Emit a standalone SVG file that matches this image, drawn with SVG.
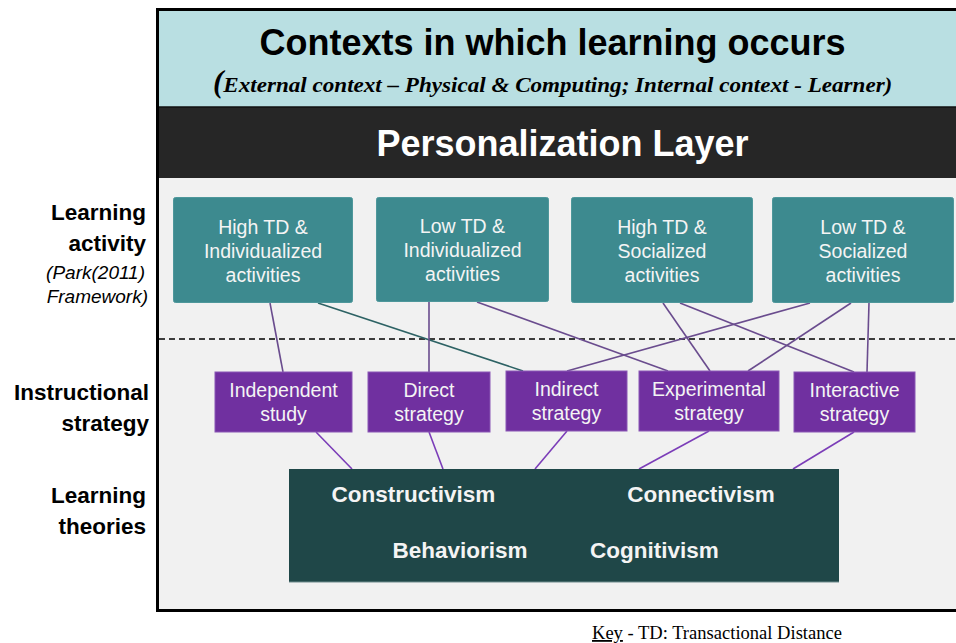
<svg xmlns="http://www.w3.org/2000/svg" width="956" height="643" viewBox="0 0 956 643">
<defs>
<style>
.sans{font-family:"Liberation Sans",Arial,sans-serif}
.act rect{fill:#3D8A8F;stroke:#4E979B;stroke-width:1}
.act text{font-family:"Liberation Sans",Arial,sans-serif;font-size:19.5px;fill:#F4F4F4;text-anchor:middle}
.str rect{fill:#7030A0;stroke:#8A57B5;stroke-width:1}
.str text{font-family:"Liberation Sans",Arial,sans-serif;font-size:19.5px;fill:#F4F4F4;text-anchor:middle}
.lbl{font-family:"Liberation Sans",Arial,sans-serif;font-size:22.5px;font-weight:bold;fill:#000;text-anchor:end}
.lbli{font-family:"Liberation Sans",Arial,sans-serif;font-size:19px;font-style:italic;fill:#000;text-anchor:end}
.th{font-family:"Liberation Sans",Arial,sans-serif;font-size:22.5px;font-weight:bold;fill:#F4F4F4;text-anchor:middle}
.c1{stroke:#6A4C8E;stroke-width:1.6;fill:none}
.c2{stroke:#7B3DB8;stroke-width:1.6;fill:none}
.c3{stroke:#2D6264;stroke-width:1.6;fill:none}
</style>
</defs>

<!-- background bands -->
<rect x="157" y="10" width="799" height="97" fill="#B9DFE2"/>
<rect x="157" y="107" width="799" height="71" fill="#262626"/>
<line x1="157" y1="107" x2="956" y2="107" stroke="#111" stroke-width="1.5"/>
<rect x="157" y="178" width="799" height="431" fill="#F1F1F1"/>
<rect x="157.5" y="9.5" width="820" height="601" fill="none" stroke="#000" stroke-width="3"/>

<g id="title">
<text x="552.5" y="55" class="sans" font-size="36" font-weight="bold" text-anchor="middle" fill="#000">Contexts in which learning occurs</text>
<text x="213" y="92" font-family="'Liberation Serif','Times New Roman',serif" font-weight="bold" font-style="italic" fill="#000"><tspan font-size="31">(</tspan><tspan font-size="21.5" textLength="669" lengthAdjust="spacingAndGlyphs">External context – Physical &amp; Computing; Internal context - Learner)</tspan></text>
</g>

<g id="personalization">
<text x="562.5" y="156" class="sans" font-size="36" font-weight="bold" text-anchor="middle" fill="#FFFFFF">Personalization Layer</text>
</g>

<!-- dashed separator -->
<line x1="159" y1="339" x2="956" y2="339" stroke="#000" stroke-width="1.5" stroke-dasharray="6 4"/>

<!-- side labels -->
<g id="label-activity">
<text x="146" y="220" class="lbl">Learning</text>
<text x="146" y="251" class="lbl">activity</text>
<text x="145" y="279" class="lbli">(Park(2011)</text>
<text x="148" y="303" class="lbli">Framework)</text>
</g>
<g id="label-strategy">
<text x="149" y="400" class="lbl">Instructional</text>
<text x="149" y="431" class="lbl">strategy</text>
</g>
<g id="label-theories">
<text x="146" y="503" class="lbl">Learning</text>
<text x="146" y="534" class="lbl">theories</text>
</g>

<!-- connectors -->
<g id="connectors">
<line class="c1" x1="270" y1="303" x2="283" y2="372"/>
<line class="c3" x1="318" y1="303" x2="523" y2="371"/>
<line class="c1" x1="429" y1="302" x2="429" y2="372"/>
<line class="c1" x1="477" y1="302" x2="668" y2="371"/>
<line class="c1" x1="663" y1="303" x2="710" y2="371"/>
<line class="c1" x1="680" y1="303" x2="854" y2="372"/>
<line class="c1" x1="810" y1="303" x2="567" y2="371"/>
<line class="c1" x1="851" y1="303" x2="748" y2="371"/>
<line class="c1" x1="869" y1="303" x2="867" y2="372"/>
<line class="c2" x1="316" y1="432" x2="352" y2="469"/>
<line class="c2" x1="429" y1="432" x2="443" y2="469"/>
<line class="c2" x1="567" y1="431" x2="535" y2="469"/>
<line class="c2" x1="709" y1="431" x2="639" y2="469"/>
<line class="c2" x1="854" y1="432" x2="793" y2="469"/>
</g>

<!-- learning activities -->
<g id="act-high-ind" class="act">
<rect x="173.5" y="197.5" width="179" height="105" rx="2"/>
<text x="263" y="234">High TD &amp;</text>
<text x="263" y="258">Individualized</text>
<text x="263" y="282">activities</text>
</g>
<g id="act-low-ind" class="act">
<rect x="376.5" y="197.5" width="172" height="104" rx="2"/>
<text x="462.5" y="233">Low TD &amp;</text>
<text x="462.5" y="257">Individualized</text>
<text x="462.5" y="281">activities</text>
</g>
<g id="act-high-soc" class="act">
<rect x="571.5" y="197.5" width="181" height="105" rx="2"/>
<text x="662" y="234">High TD &amp;</text>
<text x="662" y="258">Socialized</text>
<text x="662" y="282">activities</text>
</g>
<g id="act-low-soc" class="act">
<rect x="772.5" y="197.5" width="181" height="105" rx="2"/>
<text x="863" y="234">Low TD &amp;</text>
<text x="863" y="258">Socialized</text>
<text x="863" y="282">activities</text>
</g>

<!-- instructional strategies -->
<g id="str-independent" class="str">
<rect x="215" y="372" width="137" height="60"/>
<text x="283.5" y="397">Independent</text>
<text x="283.5" y="421">study</text>
</g>
<g id="str-direct" class="str">
<rect x="368" y="372" width="122" height="60"/>
<text x="429" y="397">Direct</text>
<text x="429" y="421">strategy</text>
</g>
<g id="str-indirect" class="str">
<rect x="506" y="371" width="121" height="60"/>
<text x="566.5" y="396">Indirect</text>
<text x="566.5" y="420">strategy</text>
</g>
<g id="str-experimental" class="str">
<rect x="639" y="371" width="140" height="60"/>
<text x="709" y="396">Experimental</text>
<text x="709" y="420">strategy</text>
</g>
<g id="str-interactive" class="str">
<rect x="794" y="372" width="121" height="60"/>
<text x="854.5" y="397">Interactive</text>
<text x="854.5" y="421">strategy</text>
</g>

<!-- learning theories -->
<g id="theories">
<rect x="289" y="469" width="550" height="113" fill="#1F4748"/>
<line x1="289" y1="582" x2="839" y2="582" stroke="#6E8C8D" stroke-width="1"/>
<text x="413.5" y="502" class="th">Constructivism</text>
<text x="701" y="502" class="th">Connectivism</text>
<text x="460" y="558" class="th">Behaviorism</text>
<text x="654.5" y="558" class="th">Cognitivism</text>
</g>

<g id="key">
<text x="592" y="639" font-family="'Liberation Serif','Times New Roman',serif" font-size="18" fill="#000" textLength="250" lengthAdjust="spacingAndGlyphs"><tspan text-decoration="underline">Key</tspan> - TD: Transactional Distance</text>
</g>
</svg>
